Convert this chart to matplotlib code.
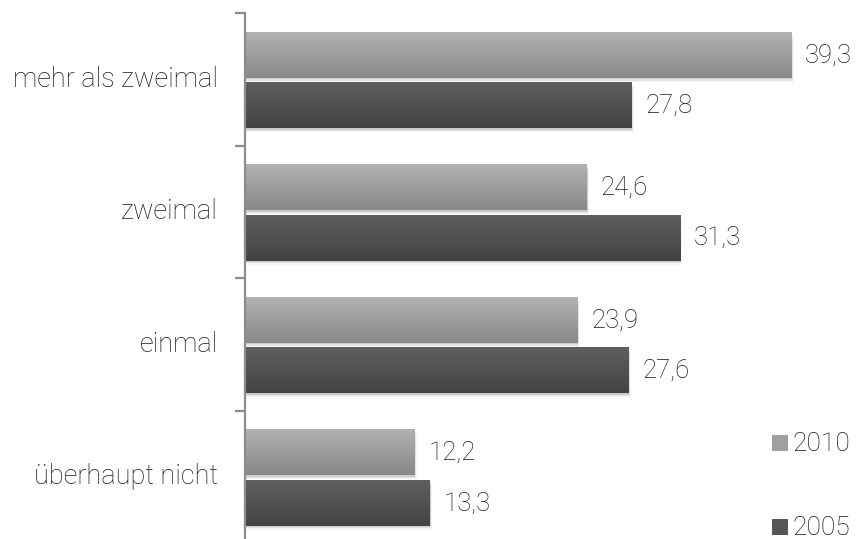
import numpy as np
import matplotlib.pyplot as plt
import matplotlib.transforms as mtransforms
from matplotlib.patches import Rectangle

categories = ["mehr als zweimal", "zweimal", "einmal", "überhaupt nicht"]
values_2010 = [39.3, 24.6, 23.9, 12.2]
values_2005 = [27.8, 31.3, 27.6, 13.3]
series_names = ["2010", "2005"]

plt.rcParams['font.family'] = ['Roboto', 'DejaVu Sans']

W, H = 859, 539
fig = plt.figure(figsize=(W / 100, H / 100), dpi=100)
# axes placed in pixel terms: spine at x=245, band from y=13 to y=543
ax = fig.add_axes([245 / W, -4 / H, (W - 245) / W, 530 / H])

bar_h = 0.34
gap = 0.04
grad_light = ("#b2b2b2", "#888888")
grad_dark = ("#5f5f5f", "#434343")
txt_kw = dict(color="#1a1a1a", fontweight="light")


def hex2rgb(c):
    return np.array([int(c[i:i + 2], 16) / 255 for i in (1, 3, 5)])


def gradient_bar(ax, y0, width, height, colors):
    top, bot = hex2rgb(colors[0]), hex2rgb(colors[1])
    t = np.linspace(0, 1, 64)[:, None]
    img = (top * (1 - t) + bot * t)[:, None, :]
    # soft shadow under the bar
    for k, a in enumerate([0.10, 0.07, 0.04]):
        ax.add_patch(Rectangle((0, y0 + 0.01 * (k + 1)), width + 0.05 * (k + 1), height,
                               color="black", alpha=a, lw=0, zorder=1))
    ax.imshow(img, extent=(0, width, y0 + height, y0), aspect="auto",
              interpolation="bilinear", zorder=2)


for i, (v1, v2) in enumerate(zip(values_2010, values_2005)):
    c = i + 0.5
    y1 = c - gap / 2 - bar_h + 0.01
    y2 = c + gap / 2 + 0.01
    gradient_bar(ax, y1, v1, bar_h, grad_light)
    gradient_bar(ax, y2, v2, bar_h, grad_dark)
    for v, y in ((v1, y1), (v2, y2)):
        ax.text(v + 1.0, y + bar_h / 2, f"{v:.1f}".replace(".", ","),
                va="center", ha="left", fontsize=18.5, **txt_kw)

ax.set_xlim(0, (W - 245) / 13.9)
ax.set_ylim(len(categories), 0)

for s in ("top", "right", "bottom"):
    ax.spines[s].set_visible(False)
ax.spines["left"].set_color("#8c8c8c")
ax.spines["left"].set_linewidth(1.6)
ax.set_xticks([])
ax.set_yticks(range(len(categories) + 1))
ax.set_yticklabels([])
ax.tick_params(axis="y", length=7, width=1.6, color="#8c8c8c", direction="out")

trans = mtransforms.blended_transform_factory(ax.transAxes, ax.transData)
for i, name in enumerate(categories):
    ax.text(-27 / (W - 245), i + 0.5, name, transform=trans,
            ha="right", va="center", fontsize=19.5, **txt_kw)

# legend
for name, col, ypx in zip(series_names, ("#a0a0a0", "#555555"), (444, 528)):
    fig.patches.append(Rectangle((772 / W, 1 - (ypx + 7) / H), 16 / W, 16 / H,
                                 transform=fig.transFigure, color=col, lw=0))
    fig.text(792 / W, 1 - ypx / H, name, ha="left", va="center",
             fontsize=19, **txt_kw)

fig.savefig("out.png", dpi=100)
